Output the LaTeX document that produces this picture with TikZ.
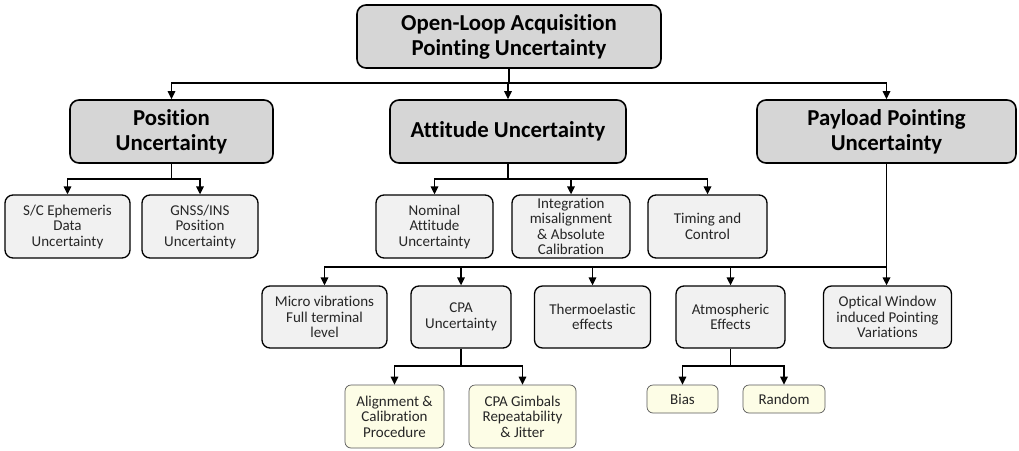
\documentclass[tikz,border=0pt]{standalone}
\usepackage{fontspec}
\setmainfont[Ligatures=NoCommon]{Carlito}
\usetikzlibrary{arrows.meta}
\definecolor{hdrfill}{HTML}{D6D6D6}
\definecolor{subfill}{HTML}{F1F1F1}
\definecolor{leaffill}{HTML}{FDFDE6}
\definecolor{txt}{HTML}{262626}
\tikzset{
  box/.style={draw, align=center, inner sep=0pt, text=txt},
  hdr/.style={box, fill=hdrfill, line width=1.6pt, rounded corners=9pt, text=black,
     font=\bfseries\fontsize{22.8}{25}\selectfont},
  sub/.style={box, fill=subfill, line width=1.3pt, rounded corners=8pt,
     font=\fontsize{15}{15.5}\selectfont},
  leaf/.style={box, fill=leaffill, draw=black!65, line width=0.7pt, rounded corners=6pt,
     font=\fontsize{15}{15.5}\selectfont},
  conn/.style={line width=1.6pt, -{Triangle[width=7.5pt,length=8pt]}},
  trunk/.style={line width=2.8pt},
}
\begin{document}
\begin{tikzpicture}[x=1pt,y=-1pt]
\useasboundingbox (0,0) rectangle (1019,450);
% top
\node[hdr, minimum width=304pt, minimum height=63pt] (top) at (509,36.5) {Open-Loop Acquisition\\Pointing Uncertainty};
% level 1
\node[hdr, minimum width=203pt, minimum height=63pt] (pos) at (171.5,131.5) {Position\\Uncertainty};
\node[hdr, minimum width=236pt, minimum height=63pt] (att) at (508,131.5) {Attitude Uncertainty};
\node[hdr, minimum width=259pt, minimum height=63pt] (pay) at (886.5,131.5) {Payload Pointing\\Uncertainty};
% position children
\node[sub, minimum width=125pt, minimum height=63pt] (eph) at (67.5,226.5) {S/C Ephemeris\\Data\\Uncertainty};
\node[sub, minimum width=116pt, minimum height=63pt] (gnss) at (200,226.5) {GNSS/INS\\Position\\Uncertainty};
% attitude children
\node[sub, minimum width=117pt, minimum height=63pt] (nom) at (434.5,226.5) {Nominal\\Attitude\\Uncertainty};
\node[sub, minimum width=118pt, minimum height=63pt] (integ) at (571,226.5) {Integration\\misalignment\\\& Absolute\\Calibration};
\node[sub, minimum width=119pt, minimum height=63pt] (timing) at (707.5,226.5) {Timing and\\Control};
% payload children
\node[sub, minimum width=125pt, minimum height=62pt] (micro) at (324.5,317) {Micro vibrations\\Full terminal\\level};
\node[sub, minimum width=100pt, minimum height=62pt] (cpa) at (461,317) {CPA\\Uncertainty};
\node[sub, minimum width=116pt, minimum height=62pt] (thermo) at (592.5,317) {Thermoelastic\\effects};
\node[sub, minimum width=109pt, minimum height=62pt] (atm) at (730.5,317) {Atmospheric\\Effects};
\node[sub, minimum width=128pt, minimum height=62pt] (opt) at (887.5,317) {Optical Window\\induced Pointing\\Variations};
% leaves
\node[leaf, minimum width=99pt, minimum height=63pt] (align) at (394.5,416.5) {Alignment \&\\Calibration\\Procedure};
\node[leaf, minimum width=107pt, minimum height=63pt] (gimb) at (522.5,416.5) {CPA Gimbals\\Repeatability\\\& Jitter};
\node[leaf, minimum width=71pt, minimum height=28pt] (bias) at (682.5,399) {Bias};
\node[leaf, minimum width=82pt, minimum height=28pt] (rand) at (784,399) {Random};
% junction coordinates
\coordinate (j0) at (509,83);
\coordinate (j1) at (0,179);
\coordinate (j3) at (0,267);
\coordinate (j4) at (0,366);
% connectors
\draw[trunk] (top.south) -- (top.south |- j0);
\draw[conn] (top.south) -- (top.south |- j0) -| (pos.north);
\draw[conn] (top.south) -- (top.south |- j0) -| (att.north);
\draw[conn] (top.south) -- (top.south |- j0) -| (pay.north);
\draw[conn] (pos.south) -- (pos.south |- j1) -| (eph.north);
\draw[conn] (pos.south) -- (pos.south |- j1) -| (gnss.north);
\draw[conn] (att.south) -- (att.south |- j1) -| (nom.north);
\draw[conn] (att.south) -- (att.south |- j1) -| (integ.north);
\draw[conn] (att.south) -- (att.south |- j1) -| (timing.north);
\draw[conn] (pay.south) -- (pay.south |- opt.north);
\draw[conn] (pay.south) -- (pay.south |- j3) -| (micro.north);
\draw[conn] (pay.south) -- (pay.south |- j3) -| (cpa.north);
\draw[conn] (pay.south) -- (pay.south |- j3) -| (thermo.north);
\draw[conn] (pay.south) -- (pay.south |- j3) -| (atm.north);
\draw[conn] (cpa.south) -- (cpa.south |- j4) -| (align.north);
\draw[conn] (cpa.south) -- (cpa.south |- j4) -| (gimb.north);
\draw[conn] (atm.south) -- (atm.south |- j4) -| (bias.north);
\draw[conn] (atm.south) -- (atm.south |- j4) -| (rand.north);
\end{tikzpicture}
\end{document}
